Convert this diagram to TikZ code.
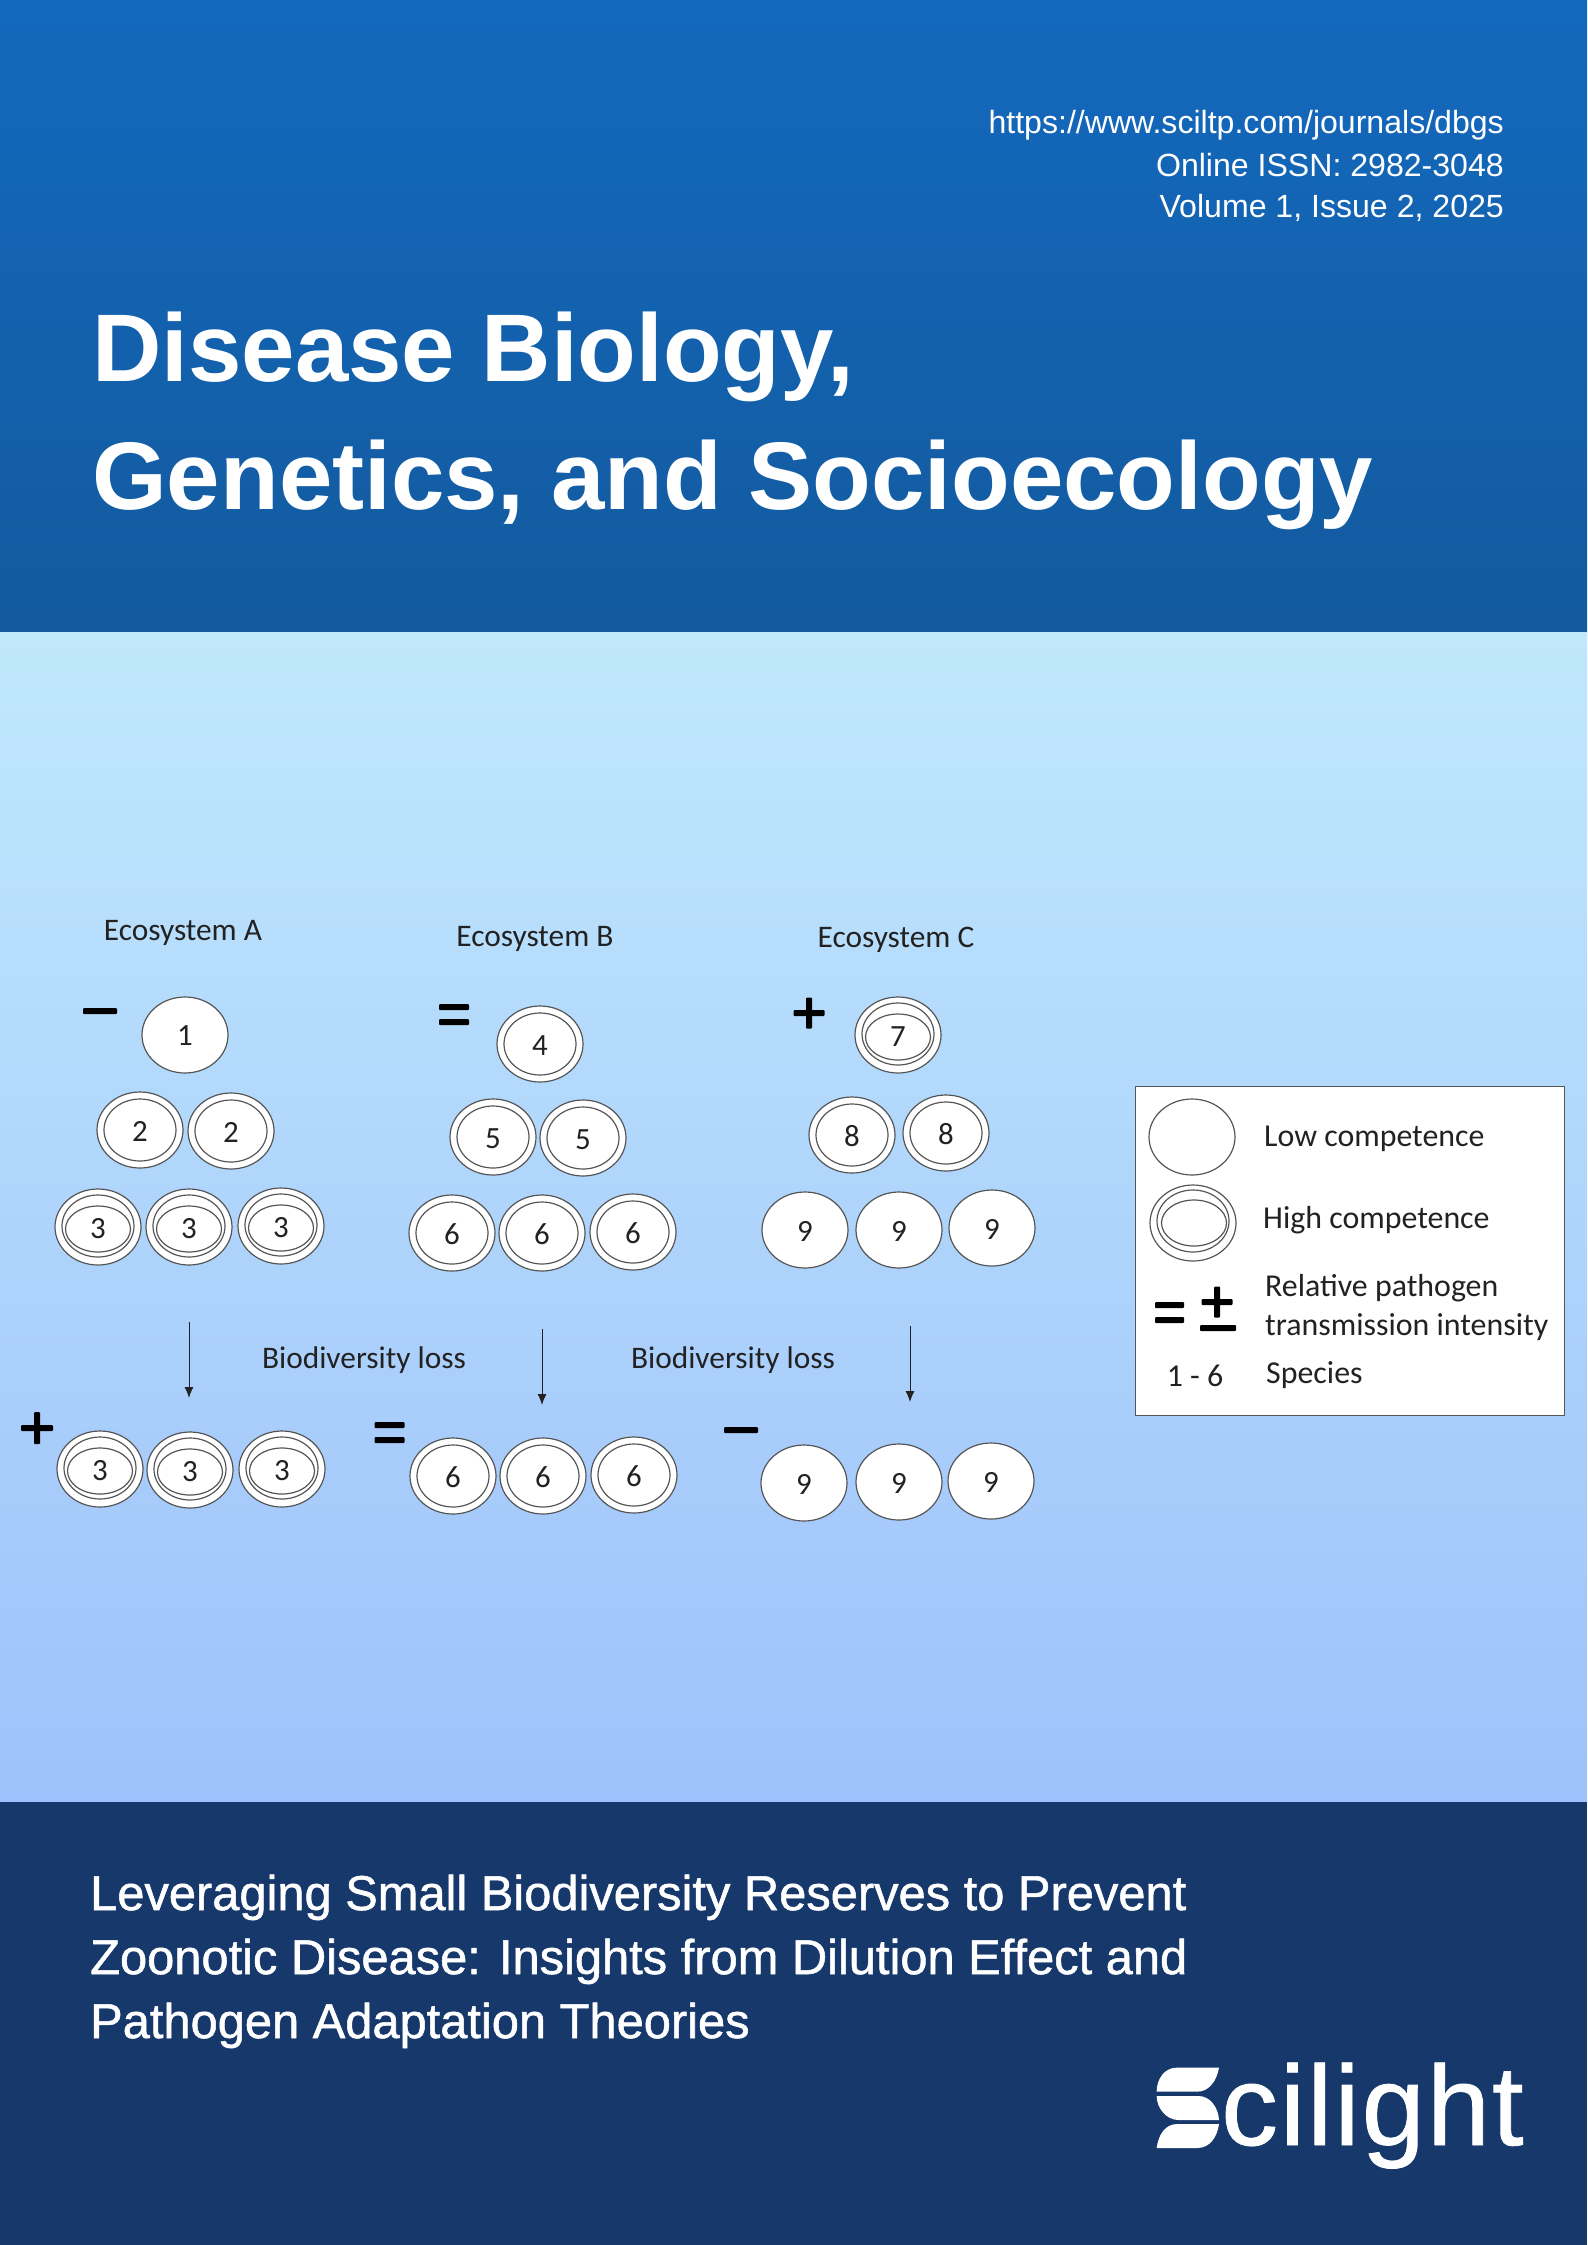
\documentclass[tikz,border=0pt]{standalone}
\usepackage{fontspec}
\usetikzlibrary{shapes.geometric,arrows.meta}
\setmainfont{Liberation Sans}
\newfontfamily\carl{Carlito}
\newfontfamily\artfont[FakeBold=1.1]{Liberation Sans}
\newfontfamily\logofont[FakeBold=0.7,LetterSpace=1.8]{Liberation Sans}
\definecolor{hdtop}{HTML}{1369BE}
\definecolor{hdbot}{HTML}{135A9E}
\definecolor{midtop}{HTML}{C0E8FC}
\definecolor{midbot}{HTML}{9EC1FB}
\definecolor{foot}{HTML}{16386B}
\definecolor{ringc}{HTML}{555555}
\definecolor{ink}{HTML}{222222}
\tikzset{
  outerell/.style={ellipse,draw=ringc,fill=white,line width=1.2pt,minimum width=86bp,minimum height=76bp,inner sep=0pt},
  midell/.style={ellipse,draw=ringc,line width=1.2pt,minimum width=72bp,minimum height=62bp,inner sep=0pt},
  innell/.style={ellipse,draw=ringc,line width=1.2pt,minimum width=65bp,minimum height=46bp,inner sep=0pt},
  numlab/.style={font=\carl\fontsize{31}{31}\selectfont,text=ink,inner sep=0pt},
  dialab/.style={font=\carl\fontsize{31.5}{31.5}\selectfont,text=ink,inner sep=0pt},
  leglab/.style={font=\carl\fontsize{32}{32}\selectfont,text=ink,inner sep=0pt,anchor=west},
  whitetxt/.style={text=white,inner sep=0pt},
  urltxt/.style={whitetxt,anchor=east,font=\fontsize{32.2}{32.2}\selectfont},
  titletxt/.style={whitetxt,anchor=base west,font=\bfseries\fontsize{96.4}{96.4}\selectfont},
  arttxt/.style={whitetxt,anchor=base west,font=\artfont\fontsize{49}{49}\selectfont},
  signbar/.style={fill=black,rounded corners=1pt},
  downarr/.style={draw=ink,line width=1pt,-{Latex[length=11bp,width=9bp]}},
  leaf/.style={fill=white,draw=none},
}
% species glyphs: name, position, label
\newcommand{\lowsp}[3]{\node[outerell] (#1) at (#2) {}; \node[numlab] (#1t) at ([yshift=-1bp]#2) {#3};}
\newcommand{\dblsp}[3]{\node[outerell] (#1) at (#2) {}; \node[midell] (#1m) at (#2) {}; \node[numlab] (#1t) at ([yshift=-1.5bp]#2) {#3};}
\newcommand{\trisp}[3]{\node[outerell] (#1) at (#2) {}; \node[midell] (#1m) at ([yshift=1bp]#2) {}; \node[innell] (#1i) at ([yshift=-2bp]#2) {}; \node[numlab] (#1t) at ([yshift=-1.5bp]#2) {#3};}
\newcommand{\minussign}[2]{\fill[signbar] ([shift={(-#2,-3)}]#1) rectangle ([shift={(#2,3)}]#1);}
\newcommand{\equalsign}[2]{\fill[signbar] ([shift={(-#2,-10.5)}]#1) rectangle ([shift={(#2,-4.5)}]#1); \fill[signbar] ([shift={(-#2,4.5)}]#1) rectangle ([shift={(#2,10.5)}]#1);}
\newcommand{\plussign}[2]{\fill[signbar] ([shift={(-#2,-3)}]#1) rectangle ([shift={(#2,3)}]#1); \fill[signbar] ([shift={(-3,-#2)}]#1) rectangle ([shift={(3,#2)}]#1);}
\begin{document}
\begin{tikzpicture}[x=1bp,y=-1bp]
\useasboundingbox (0,0) rectangle (1587,2245);
% bands
\shade[top color=hdtop,bottom color=hdbot] (0,0) rectangle (1587,632);
\shade[top color=midtop,bottom color=midbot] (0,632) rectangle (1587,1802);
\fill[foot] (0,1802) rectangle (1587,2245);
% header
\node[urltxt] (url) at (1504,125) {https://www.sciltp.com/journals/dbgs};
\node[urltxt] (issn) at (1504,165) {Online ISSN: 2982-3048};
\node[urltxt] (vol) at (1504,208) {Volume 1, Issue 2, 2025};
\node[titletxt] (t1) at (92,381) {Disease Biology,};
\node[titletxt] (t2) at (92,509) {Genetics, and Socioecology};
% footer
\node[arttxt] (a1) at (90,1910) {Leveraging Small Biodiversity Reserves to Prevent};
\node[arttxt] (a2) at (90,1974) {Zoonotic Disease: Insights from Dilution Effect and};
\node[arttxt] (a3) at (90,2038) {Pathogen Adaptation Theories};
% logo
\begin{scope}[shift={(1120,2020)},x=0.3333bp,y=-0.3333bp]
\fill[leaf] (110,215) .. controls (110,175) and (135,143) .. (170,143) -- (297,143) .. controls (290,185) and (265,215) .. (232,215) -- cycle;
\fill[leaf] (110,228) -- (235,228) .. controls (270,228) and (295,262) .. (297,300) -- (175,300) .. controls (140,300) and (110,265) .. (110,228) -- cycle;
\fill[leaf] (110,384) .. controls (115,345) and (135,312) .. (172,312) -- (297,312) .. controls (292,350) and (270,384) .. (232,384) -- cycle;
\end{scope}
\node[whitetxt,anchor=base west,font=\logofont\fontsize{114}{114}\selectfont] (logo) at (1221,2145) {cilight};
% ecosystem titles
\node[dialab] (ea) at (183,933) {Ecosystem A};
\node[dialab] (eb) at (535,939) {Ecosystem B};
\node[dialab] (ec) at (896,940) {Ecosystem C};
% A
\minussign{100,1011}{17}
\lowsp{s1}{185,1035}{1}
\dblsp{s2a}{140,1130}{2}
\dblsp{s2b}{231,1131}{2}
\trisp{s3a}{98,1227}{3}
\trisp{s3b}{189,1227}{3}
\trisp{s3c}{281,1226}{3}
% B
\equalsign{454,1014.5}{15}
\dblsp{s4}{540,1044}{4}
\dblsp{s5a}{493,1137}{5}
\dblsp{s5b}{583,1138}{5}
\dblsp{s6a}{452,1233}{6}
\dblsp{s6b}{542,1233}{6}
\dblsp{s6c}{633,1232}{6}
% C
\plussign{809,1013}{15.5}
\trisp{s7}{898,1035}{7}
\dblsp{s8a}{852,1135}{8}
\dblsp{s8b}{946,1133}{8}
\lowsp{s9a}{805,1230}{9}
\lowsp{s9b}{899,1230}{9}
\lowsp{s9c}{992,1228}{9}
% arrows
\coordinate (ar1s) at (189,1322); \coordinate (ar1e) at (189,1398);
\coordinate (ar2s) at (542,1329); \coordinate (ar2e) at (542,1405);
\coordinate (ar3s) at (910,1326); \coordinate (ar3e) at (910,1402);
\draw[downarr] (ar1s) -- (ar1e);
\draw[downarr] (ar2s) -- (ar2e);
\draw[downarr] (ar3s) -- (ar3e);
\node[dialab] (bl1) at (364,1360) {Biodiversity loss};
\node[dialab] (bl2) at (733,1360) {Biodiversity loss};
% bottom row
\plussign{37,1428}{16}
\trisp{b3a}{100,1469}{3}
\trisp{b3b}{190,1470}{3}
\trisp{b3c}{282,1469}{3}
\equalsign{389.5,1432.5}{15}
\dblsp{b6a}{453,1476}{6}
\dblsp{b6b}{543,1476}{6}
\dblsp{b6c}{634,1475}{6}
\minussign{741,1430}{17}
\lowsp{b9a}{804,1483}{9}
\lowsp{b9b}{899,1482}{9}
\lowsp{b9c}{991,1481}{9}
% legend
\node[draw=ringc,fill=white,line width=1pt,minimum width=429bp,minimum height=329bp,inner sep=0pt] (lbox) at (1349.5,1250.5) {};
\node[outerell] (lglow) at (1192,1137) {};
\node[outerell] (lghi) at (1193,1223) {};
\node[midell] (lghim) at (1193,1221) {};
\node[innell] (lghii) at (1194,1223) {};
\node[leglab] (lt1) at (1264,1139) {Low competence};
\node[leglab] (lt2) at (1263,1220) {High competence};
\node[leglab] (lt3) at (1265,1288) {Relative pathogen};
\node[leglab] (lt4) at (1265,1327) {transmission intensity};
\node[leglab] (lt5) at (1266,1375) {Species};
\node[numlab,font=\carl\fontsize{32}{32}\selectfont] (lt6) at (1195,1376) {1 - 6};
\equalsign{1169.5,1312.5}{14.5}
\plussign{1217,1302}{15.5}
\minussign{1218,1328}{18}
\end{tikzpicture}
\end{document}
